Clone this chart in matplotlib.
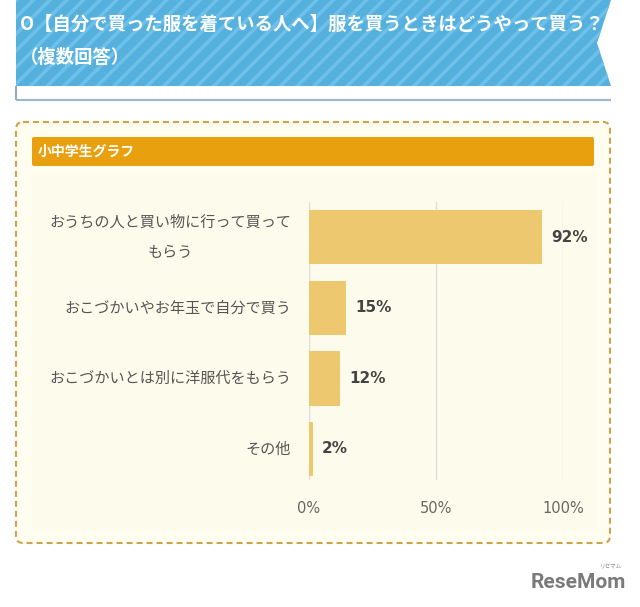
import matplotlib
matplotlib.use("Agg")
import matplotlib.pyplot as plt
from matplotlib.patches import Polygon, Rectangle, FancyBboxPatch

plt.rcParams['font.family'] = ['Noto Sans CJK JP', 'DejaVu Sans']

# ---- data ----
title_line1 = "O【自分で買った服を着ている人へ】服を買うときはどうやって買う？"
title_line2 = "（複数回答）"
panel_title = "小中学生グラフ"
categories = ["おうちの人と買い物に行って買って\nもらう",
              "おこづかいやお年玉で自分で買う",
              "おこづかいとは別に洋服代をもらう",
              "その他"]
values = [91.7, 14.6, 12.2, 1.6]
value_labels = ["92%", "15%", "12%", "2%"]
xticks = [0, 50, 100]
xtick_labels = ["0%", "50%", "100%"]

W, H = 640, 607
fig = plt.figure(figsize=(W / 100, H / 100), dpi=100)
fig.patch.set_facecolor('white')

# background axes in pixel coordinates
bg = fig.add_axes([0, 0, 1, 1])
bg.set_xlim(0, W)
bg.set_ylim(H, 0)
bg.axis('off')

plt.rcParams['hatch.linewidth'] = 2.6
# blue banner with notch
banner_pts = [(16, 0), (611, 0), (597, 43), (611, 86), (16, 86)]
bg.add_patch(Polygon(banner_pts, closed=True, facecolor='#55b0de', edgecolor='none', lw=0))
bg.add_patch(Polygon(banner_pts, closed=True, facecolor='none', edgecolor='#6dc0e9',
                     hatch='//', lw=0))
# white strip with border
bg.plot([16, 16], [86, 100], color='#8fadc0', lw=1.5, solid_capstyle='butt')
bg.plot([16, 611], [100, 100], color='#9fb8c8', lw=1.5, solid_capstyle='butt')

bg.text(20, 24, title_line1, color='white', fontsize=13.2, fontweight='bold',
        va='center', ha='left')
bg.text(20, 57.5, title_line2, color='white', fontsize=13.2, fontweight='bold',
        va='center', ha='left')

# dashed rounded box
bg.add_patch(FancyBboxPatch((16, 122), 594, 421,
                            boxstyle='round,pad=0,rounding_size=7',
                            facecolor='#fffdf0', edgecolor='#cfa24e', lw=1.5,
                            linestyle=(0, (2.9, 1.9))))
# inner panel
bg.add_patch(Rectangle((32, 172), 566, 358, facecolor='#fdfbeb', edgecolor='none'))
# orange header
bg.add_patch(FancyBboxPatch((32, 137), 562, 29, boxstyle='round,pad=0,rounding_size=2',
                            facecolor='#e8a00e', edgecolor='none'))
bg.text(38, 151.5, panel_title, color='white', fontsize=10, fontweight='bold',
        va='center', ha='left')

# logo
bg.text(578, 583, "ReseMom", color='#7a7a7a', fontsize=15, fontweight='bold',
        family=['Roboto', 'DejaVu Sans'], va='center', ha='center')
bg.text(611, 567, "リセマム", color='#8a8a8a', fontsize=4, va='center', ha='center')

# ---- chart axes ----
x0, x1, ytop, ybot = 309, 563, 202, 480
ax = fig.add_axes([x0 / W, 1 - ybot / H, (x1 - x0) / W, (ybot - ytop) / H])
ax.set_facecolor('none')
ypos = list(range(len(categories)))
ax.set_xlim(0, 100)
ax.set_ylim(3.44, -0.5)
ax.set_xticks(xticks)
ax.set_xticklabels(xtick_labels, family='DejaVu Sans', fontsize=10.5, color='#666666')
ax.grid(axis='x', color='#dddddd', lw=1)
ax.set_axisbelow(True)
ax.barh(ypos, values, height=0.77, color='#eec86e', zorder=2)
for sp in ax.spines.values():
    sp.set_visible(False)
ax.tick_params(axis='x', length=0, pad=15)
ax.tick_params(axis='y', length=0, pad=13)
ax.set_yticks(ypos)
ax.set_yticklabels(categories, fontsize=10.9, color='#555555', linespacing=2.05)
for lbl in ax.get_yticklabels():
    lbl.set_multialignment('center')
    lbl.set_verticalalignment('center')

for y, v, t in zip(ypos, values, value_labels):
    ax.annotate(t, (v, y), xytext=(6.5, 0), textcoords='offset points',
                ha='left', va='center', fontsize=11, fontweight='bold',
                color='#444444', family='DejaVu Sans', annotation_clip=False)

fig.savefig('out.png', dpi=100, facecolor='white')
